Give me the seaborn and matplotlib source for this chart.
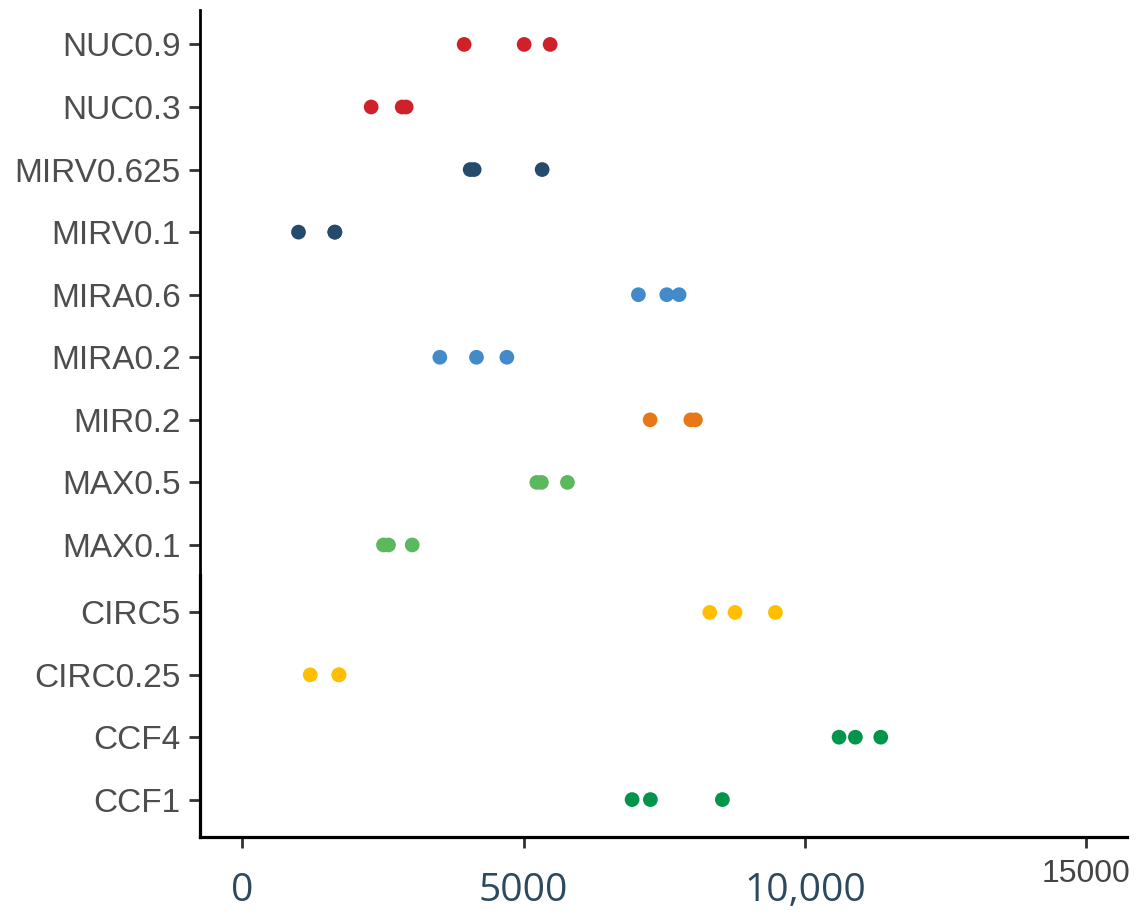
import numpy as np
import pandas as pd
import matplotlib
matplotlib.use("Agg")
import matplotlib.pyplot as plt
import seaborn as sns

# ---- data ----
top_categories = ["NUC0.9", "NUC0.3", "MIRV0.625", "MIRV0.1", "MIRA0.6",
                  "MIRA0.2", "MIR0.2", "MAX0.5", "MAX0.1"]
bottom_categories = ["CIRC5", "CIRC0.25", "CCF4", "CCF1"]

NUC09 = [3943, 5009, 5471]
NUC03 = [2291, 2842, 2913]
MIRV0625 = [4050, 4121, 5329]
MIRV01 = [1000, 1646, 1646]
MIRA06 = [7039, 7543, 7762]
MIRA02 = [3511, 4162, 4702]
MIR02 = [7247, 7970, 8052]
MAX05 = [5234, 5316, 5778]
MAX01 = [2510, 2599, 3020]
CIRC5 = [8307, 8757, 9473]
CIRC025 = [1208, 1718, 1718]
CCF4 = [10604, 10894, 11345]
CCF1 = [6927, 7252, 8531]

values = {
    "NUC0.9": NUC09, "NUC0.3": NUC03, "MIRV0.625": MIRV0625, "MIRV0.1": MIRV01,
    "MIRA0.6": MIRA06, "MIRA0.2": MIRA02, "MIR0.2": MIR02, "MAX0.5": MAX05,
    "MAX0.1": MAX01, "CIRC5": CIRC5, "CIRC0.25": CIRC025, "CCF4": CCF4, "CCF1": CCF1,
}

palette = {
    "NUC0.9": "#D0212A", "NUC0.3": "#D0212A",
    "MIRV0.625": "#244A6C", "MIRV0.1": "#244A6C",
    "MIRA0.6": "#428ACA", "MIRA0.2": "#428ACA",
    "MIR0.2": "#E87817",
    "MAX0.5": "#5CB85C", "MAX0.1": "#5CB85C",
    "CIRC5": "#FFBF00", "CIRC0.25": "#FFBF00",
    "CCF4": "#00954A", "CCF1": "#00954A",
}

xticks = [0, 5000, 10000, 15000]
xticklabels = ["0", "5000", "10,000", "15000"]

rows = [(c, v) for c, vs in values.items() for v in vs]
df = pd.DataFrame(rows, columns=["cond", "value"])
df_top = df[df["cond"].isin(top_categories)]
df_bot = df[df["cond"].isin(bottom_categories)]

sns.set_style("white")
plt.rcParams["font.family"] = ["Liberation Sans", "DejaVu Sans"]

fig = plt.figure(figsize=(11.37, 9.14), dpi=100)
L, R = 200 / 1137, 1127 / 1137
ax_top = fig.add_axes([L, 1 - 575 / 914, R - L, (575 - 10) / 914])
ax_bot = fig.add_axes([L, 1 - 837 / 914, R - L, (837 - 575) / 914])

for ax, d, order in [(ax_top, df_top, top_categories), (ax_bot, df_bot, bottom_categories)]:
    sns.stripplot(data=d, x="value", y="cond", order=order, hue="cond",
                  hue_order=order, palette=palette, jitter=False, size=10.6,
                  linewidth=0, legend=False, ax=ax)
    ax.set_xlim(-750, 15720)
    ax.set_xlabel("")
    ax.set_ylabel("")
    for s in ["top", "right"]:
        ax.spines[s].set_visible(False)
    ax.tick_params(axis="y", left=True, length=8, width=2, color="#333333",
                   labelsize=24, labelcolor="#4D4D4D", pad=6)

ax_top.set_ylim(8.48, -0.55)
ax_bot.set_ylim(3.6, -0.6)

ax_top.spines["bottom"].set_visible(False)
ax_top.spines["left"].set_linewidth(2.0)
ax_top.spines["left"].set_color("black")
ax_top.set_xticks([])

ax_bot.spines["left"].set_linewidth(2.3)
ax_bot.spines["bottom"].set_linewidth(2.3)
ax_bot.spines["left"].set_color("black")
ax_bot.spines["bottom"].set_color("black")
ax_bot.set_xticks(xticks)
ax_bot.set_xticklabels(xticklabels)
ax_bot.tick_params(axis="x", bottom=True, length=8, width=2, color="#333333")

for i, (tick, lab) in enumerate(zip(ax_bot.xaxis.get_major_ticks(), ax_bot.get_xticklabels())):
    if i < 3:
        lab.set_fontfamily(["Open Sans", "DejaVu Sans"])
        lab.set_fontsize(28)
        lab.set_color("#2C4A5E")
        tick.set_pad(17)
    else:
        lab.set_fontfamily(["Liberation Sans", "DejaVu Sans"])
        lab.set_fontsize(23)
        lab.set_color("#444444")
        tick.set_pad(8)

fig.savefig("out.png", dpi=100)
